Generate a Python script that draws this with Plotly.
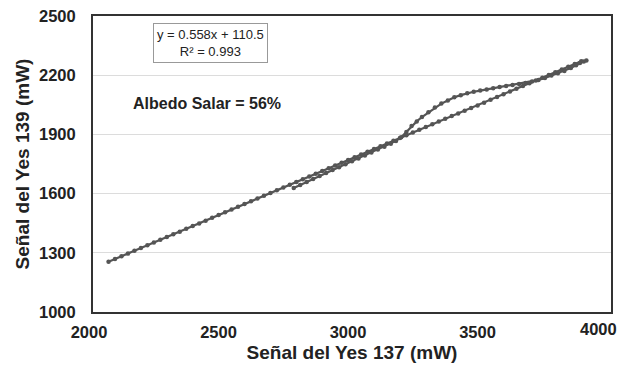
import plotly.graph_objects as go

# Branch 1 (lower / main branch)
x_main = [2060, 2085, 2110, 2135, 2160, 2185, 2210, 2235, 2260, 2285, 2310, 2335, 2360,
          2385, 2410, 2435, 2460, 2485, 2510, 2535, 2560, 2585, 2610, 2635, 2660, 2685,
          2710, 2735, 2760, 2785, 2810, 2835, 2860, 2885, 2910, 2935, 2960, 2985, 3010,
          3035, 3060, 3085, 3110, 3135, 3160, 3185, 3210, 3235, 3260, 3285, 3310, 3335,
          3360, 3385, 3410, 3435, 3460, 3485, 3510, 3535, 3560, 3585, 3610, 3635, 3660,
          3685, 3710, 3735, 3760, 3785, 3810, 3835, 3860, 3885]
y_main = [1255, 1268, 1283, 1296, 1311, 1324, 1338, 1352, 1366, 1380, 1394, 1407, 1422,
          1436, 1449, 1463, 1478, 1491, 1505, 1519, 1533, 1547, 1561, 1575, 1589, 1603,
          1617, 1631, 1645, 1659, 1673, 1687, 1700, 1714, 1728, 1742, 1756, 1770, 1784,
          1798, 1812, 1826, 1840, 1854, 1868, 1882, 1896, 1910, 1924, 1938, 1952, 1965,
          1979, 1993, 2006, 2020, 2034, 2047, 2061, 2075, 2089, 2103, 2117, 2131, 2145,
          2159, 2173, 2187, 2201, 2215, 2229, 2243, 2257, 2271]

# Branch 2 (return branch forming the loop)
x_loop = [2775, 2800, 2825, 2850, 2875, 2900, 2925, 2950, 2975, 3000, 3025, 3050, 3075,
          3100, 3125, 3150, 3170, 3190, 3210, 3230, 3250, 3270, 3295, 3320, 3345, 3370,
          3395, 3420, 3445, 3470, 3495, 3520, 3545, 3570, 3595, 3620, 3645, 3670, 3695,
          3720, 3745, 3770, 3795, 3820, 3845, 3865, 3880, 3895, 3905]
y_loop = [1629, 1644, 1659, 1674, 1689, 1704, 1719, 1734, 1749, 1764, 1778, 1793, 1808,
          1823, 1838, 1853, 1867, 1886, 1912, 1942, 1966, 1988, 2012, 2036, 2056, 2072,
          2088, 2099, 2108, 2116, 2122, 2128, 2134, 2140, 2145, 2150, 2155, 2161, 2168,
          2176, 2186, 2198, 2210, 2221, 2236, 2250, 2262, 2270, 2274]

x_ticks = [2000, 2500, 3000, 3500, 4000]
y_ticks = [1000, 1300, 1600, 1900, 2200, 2500]

equation_text = "y = 0.558x + 110.5<br>R² = 0.993"
albedo_text = "Albedo Salar = 56%"

pt_color = "#555555"

fig = go.Figure()
for xs, ys in ((x_main, y_main), (x_loop, y_loop)):
    fig.add_trace(go.Scatter(x=xs, y=ys, mode="lines+markers",
                             line=dict(color=pt_color, width=2.2),
                             marker=dict(size=4.5, color=pt_color),
                             showlegend=False))

fam = "Liberation Sans, Arial, sans-serif"
axis_font = dict(family=fam, size=16.5, color="#222")
title_font = dict(family=fam, size=19, color="#222")

fig.update_layout(
    width=620, height=373,
    margin=dict(l=93, r=7, t=12, b=61),
    paper_bgcolor="white", plot_bgcolor="white",
    xaxis=dict(range=[2000, 4000], tickvals=x_ticks[:-1],
               ticktext=[f"<b>{v}</b>" for v in x_ticks[:-1]],
               tickfont=axis_font, showgrid=False, zeroline=False,
               showline=True, linecolor="#333", linewidth=2, mirror=True,
               ticks="outside", ticklen=4, tickcolor="rgba(0,0,0,0)", ticklabelshift=-4,
               title=dict(text="<b>Señal del Yes 137 (mW)</b>", font=title_font, standoff=6)),
    yaxis=dict(range=[1000, 2500], tickvals=y_ticks, ticktext=[f"<b>{v}</b>" for v in y_ticks],
               tickfont=axis_font, showgrid=True, gridcolor="#dcdcdc", gridwidth=1,
               zeroline=False, showline=True, linecolor="#333", linewidth=2, mirror=True,
               ticks="outside", ticklen=12, tickcolor="rgba(0,0,0,0)",
               title=dict(text="<b>Señal del Yes 139 (mW)</b>", font=title_font, standoff=4)),
)

# last x tick label (kept inside the page like the reference)
fig.add_annotation(x=x_ticks[-1], y=0, xref="x", yref="paper", text=f"<b>{x_ticks[-1]}</b>",
                   showarrow=False, xanchor="right", yanchor="top", xshift=8, yshift=-6,
                   font=axis_font)

fig.add_annotation(x=2455, y=2362, xref="x", yref="y", text=equation_text, showarrow=False,
                   font=dict(family=fam, size=13, color="#222"),
                   bordercolor="#999", borderwidth=1, borderpad=3, bgcolor="white",
                   align="center")
fig.add_annotation(x=2440, y=2055, xref="x", yref="y", text=f"<b>{albedo_text}</b>",
                   showarrow=False, font=dict(family=fam, size=16, color="#222"))

fig.write_html("out.html")
